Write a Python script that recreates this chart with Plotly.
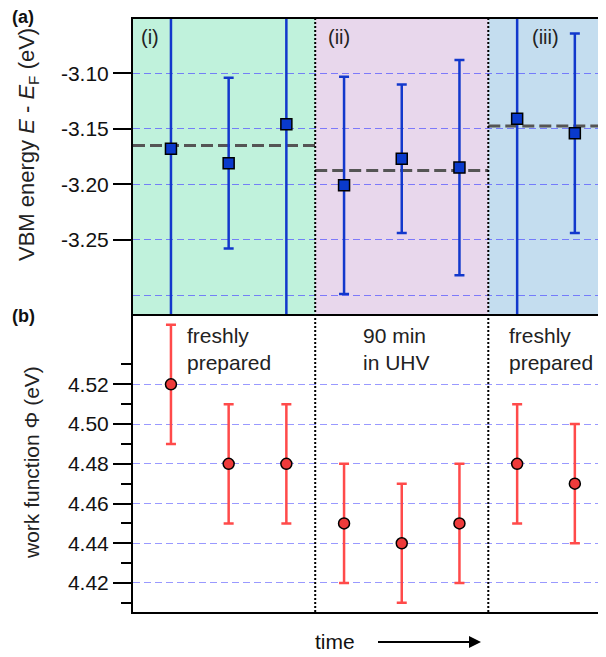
import plotly.graph_objects as go

# ---- data ----
x_pos = [1, 2, 3, 4, 5, 6, 7, 8]
group_of_point = [0, 0, 0, 1, 1, 1, 2, 2]
group_labels = ["(i)", "(ii)", "(iii)"]
group_notes = ["freshly<br>prepared", "90 min<br>in UHV", "freshly<br>prepared"]
group_colors = ["#c0f2dc", "#e8d7ec", "#c4ddef"]
region_edges = [0.342, 3.5, 6.5, 8.54]

vbm = [-3.168, -3.181, -3.146, -3.201, -3.177, -3.185, -3.141, -3.154]
vbm_err = [0.20, 0.077, 0.20, 0.098, 0.067, 0.097, 0.20, 0.090]

wf = [4.52, 4.48, 4.48, 4.45, 4.44, 4.45, 4.48, 4.47]
wf_err = [0.03, 0.03, 0.03, 0.03, 0.03, 0.03, 0.03, 0.03]

vbm_ticks = [-3.25, -3.20, -3.15, -3.10]
vbm_ticktext = ["-3.25", "-3.20", "-3.15", "-3.10"]
wf_ticks = [4.42, 4.44, 4.46, 4.48, 4.50, 4.52]
wf_minor = [4.41, 4.43, 4.45, 4.47, 4.49, 4.51, 4.53]

FONT = "Liberation Sans, Arial, sans-serif"
OFF = 8  # page body margin of the browser
W, H = 606 - OFF, 657 - OFF
ML, MR, MT, MB = 133 - OFF, 0, 19 - OFF, 45
SPLIT = 0.5025

fig = go.Figure()

# group means (dashed lines)
for g in range(3):
    vals = [v for v, gi in zip(vbm, group_of_point) if gi == g]
    m = sum(vals) / len(vals)
    fig.add_trace(go.Scatter(
        x=[region_edges[g], region_edges[g + 1]], y=[m, m], mode="lines",
        line=dict(color="#555555", width=3, dash="12px,5px"),
        xaxis="x", yaxis="y", showlegend=False, hoverinfo="skip"))

fig.add_trace(go.Scatter(
    x=x_pos, y=vbm, mode="markers", xaxis="x", yaxis="y",
    marker=dict(symbol="square", size=11, color="#0a3acc",
                line=dict(color="black", width=1.5)),
    error_y=dict(type="data", array=vbm_err, color="#1238cc",
                 thickness=2.5, width=5),
    showlegend=False))

fig.add_trace(go.Scatter(
    x=x_pos, y=wf, mode="markers", xaxis="x2", yaxis="y2",
    marker=dict(symbol="circle", size=11, color="#ee3b3b",
                line=dict(color="black", width=1.5)),
    error_y=dict(type="data", array=wf_err, color="#ff4a4a",
                 thickness=2.5, width=5),
    showlegend=False))

shapes = []
for g in range(3):
    shapes.append(dict(type="rect", xref="x", yref="y domain",
                       x0=region_edges[g] - (1 if g == 0 else 0),
                       x1=region_edges[g + 1] + (1 if g == 2 else 0),
                       y0=0, y1=1, fillcolor=group_colors[g],
                       line=dict(width=0), layer="below"))
for xe in region_edges[1:3]:
    shapes.append(dict(type="line", xref="x", yref="paper", x0=xe, x1=xe,
                       y0=0, y1=1, line=dict(color="black", width=2, dash="2px,2px"),
                       layer="above"))

annotations = []
lab_x = [0.45, 3.69, 7.22]
for g in range(3):
    annotations.append(dict(text=group_labels[g], xref="x", yref="y domain",
                            x=lab_x[g], y=0.939, xanchor="left", yanchor="middle",
                            showarrow=False, font=dict(size=20, color="#222")))
note_x = [1.24, 4.29, 6.83]
for g in range(3):
    annotations.append(dict(text=group_notes[g], xref="x2", yref="y2 domain",
                            x=note_x[g], y=0.973, xanchor="left", yanchor="top",
                            align="left", showarrow=False,
                            font=dict(size=21, color="#222")))

pw = W - ML - MR
ph = H - MT - MB
def px_x(px):
    return (px - OFF - ML) / pw
def px_y(py):
    return (H - MB - (py - OFF)) / ph

annotations += [
    dict(text="<b>(a)</b>", xref="paper", yref="paper", x=px_x(10), y=px_y(17),
         xanchor="left", yanchor="middle", showarrow=False, font=dict(size=18)),
    dict(text="<b>(b)</b>", xref="paper", yref="paper", x=px_x(10), y=px_y(316),
         xanchor="left", yanchor="middle", showarrow=False, font=dict(size=18)),
    dict(text="VBM energy <i>E</i> - <i>E</i><sub>F</sub> (eV)", xref="paper", yref="paper",
         x=px_x(28), y=px_y(145), xanchor="center", yanchor="middle", textangle=-90,
         showarrow=False, font=dict(size=22, color="#222")),
    dict(text="work function Φ (eV)", xref="paper", yref="paper",
         x=px_x(31), y=px_y(463), xanchor="center", yanchor="middle", textangle=-90,
         showarrow=False, font=dict(size=21, color="#222")),
    dict(text="time", xref="paper", yref="paper", x=px_x(335), y=px_y(641),
         xanchor="center", yanchor="middle", showarrow=False, font=dict(size=21, color="#111")),
    dict(text=" ", xref="paper", yref="paper", x=px_x(481), y=px_y(642),
         ax=-106, ay=0, axref="pixel", ayref="pixel", showarrow=True,
         arrowhead=2, arrowsize=1.2, arrowwidth=2, arrowcolor="black"),
]

axis_common = dict(showline=True, linewidth=2, linecolor="black",
                   tickfont=dict(size=21, color="#111", family=FONT))

fig.update_layout(
    width=W, height=H,
    margin=dict(l=ML, r=MR, t=MT, b=MB),
    paper_bgcolor="white", plot_bgcolor="white",
    font=dict(family=FONT, color="#111"),
    shapes=shapes, annotations=annotations,
    xaxis=dict(domain=[0, 1], range=[region_edges[0], region_edges[-1]], anchor="y",
               showticklabels=False, ticks="", showgrid=False, zeroline=False,
               showline=True, linewidth=2, linecolor="black", mirror=True),
    xaxis2=dict(domain=[0, 1], range=[region_edges[0], region_edges[-1]], anchor="y2",
                matches="x", showticklabels=False, ticks="", showgrid=False,
                zeroline=False, showline=True, linewidth=2, linecolor="black"),
    yaxis=dict(domain=[SPLIT, 1], range=[-3.317, -3.051], anchor="x",
               tickmode="array", tickvals=vbm_ticks, ticktext=vbm_ticktext,
               ticks="outside", ticklen=18, tickwidth=2, tickcolor="black",
               showgrid=True, gridcolor="rgba(90,90,255,0.75)", gridwidth=1,
               griddash="7px,4px", zeroline=False, automargin=False,
               minor=dict(tickmode="array", tickvals=[-3.30], ticks="",
                          showgrid=True, gridcolor="rgba(90,90,255,0.75)",
                          gridwidth=1, griddash="7px,4px"),
               **axis_common),
    yaxis2=dict(domain=[0, SPLIT], range=[4.4054, 4.5554], anchor="x2",
                tickmode="array", tickvals=wf_ticks,
                ticktext=[f"{v:.2f}" for v in wf_ticks],
                ticks="outside", ticklen=18, tickwidth=2, tickcolor="black",
                showgrid=True, gridcolor="rgba(110,110,255,0.7)", gridwidth=1,
                griddash="7px,4px", zeroline=False, automargin=False,
                minor=dict(tickmode="array", tickvals=wf_minor, ticks="outside",
                           ticklen=10, tickwidth=2, tickcolor="black", showgrid=False),
                **axis_common),
)

fig.write_html("out.html")
